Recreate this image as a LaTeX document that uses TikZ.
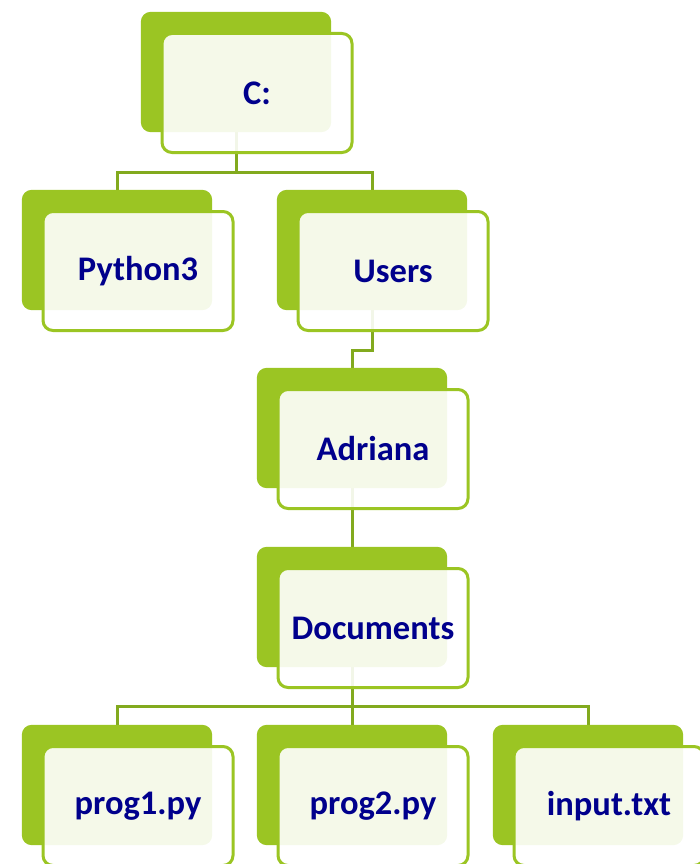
\documentclass[tikz,border=0pt]{standalone}
\usepackage{fontspec}
\setmainfont{Carlito}
\usetikzlibrary{positioning}
\usetikzlibrary{calc}
\definecolor{leafgreen}{RGB}{155,197,35}
\definecolor{stemgreen}{RGB}{130,170,30}
\definecolor{inkblue}{RGB}{0,0,140}
\def\shift{21}

\begin{document}
\begin{tikzpicture}[x=1pt,y=-1pt]
        \tikzstyle{back}=[rectangle,minimum width=190pt,minimum height=120pt,inner sep=0pt]
        \tikzstyle{front}=[rectangle,rounded corners=10pt,draw=leafgreen,line width=3pt,fill=white,fill opacity=0.9,text opacity=1,minimum width=190pt,minimum height=119pt,inner sep=0pt,text=inkblue,font=\fontsize{34.5}{40}\selectfont\bfseries]
        \tikzstyle{link}=[draw=stemgreen,line width=3pt]

        \useasboundingbox (0,0) rectangle (700,864);

        % Place the back boxes
        \node[back] (C) at (236,72) {};
        \node[back] (P) at (117,250) {};
        \node[back] (U) at (372,250) {};
        \node[back] (A) at (352,428) {};
        \node[back] (D) at (352,607) {};
        \node[back] (F-1) at (117,785) {};
        \node[back] (F-2) at (352,785) {};
        \node[back] (F-3) at (588,785) {};

        % Connectors
        \path[link] (C.south) -- ++(0,40) -| (P.north);
        \path[link] (C.south) -- ++(0,40) -| (U.north);
        \path[link] (U.south) -- ++(0,40) -| (A.north);
        \path[link] (A.south) -- (D.north);
        \foreach \dest in {1,...,3}
            \path[link] (D.south) -- ++(0,39) -| (F-\dest.north);

        % Fill the back boxes
        \foreach \name in {C,P,U,A,D,F-1,F-2,F-3}
            \fill[leafgreen,rounded corners=10pt] (\name.north west) rectangle (\name.south east);

        % Front boxes with the names
        \node[front] (C-t) at ($(C)+(\shift,\shift)$) {C:};
        \node[front] (P-t) at ($(P)+(\shift,\shift)$) {Python3};
        \node[front] (U-t) at ($(U)+(\shift,\shift)$) {Users};
        \node[front] (A-t) at ($(A)+(\shift,\shift)$) {Adriana};
        \node[front] (D-t) at ($(D)+(\shift,\shift)$) {Documents};
        \node[front] (F-1-t) at ($(F-1)+(\shift,\shift)$) {prog1.py};
        \node[front] (F-2-t) at ($(F-2)+(\shift,\shift)$) {prog2.py};
        \node[front] (F-3-t) at ($(F-3)+(\shift,\shift)$) {input.txt};
\end{tikzpicture}
\end{document}
